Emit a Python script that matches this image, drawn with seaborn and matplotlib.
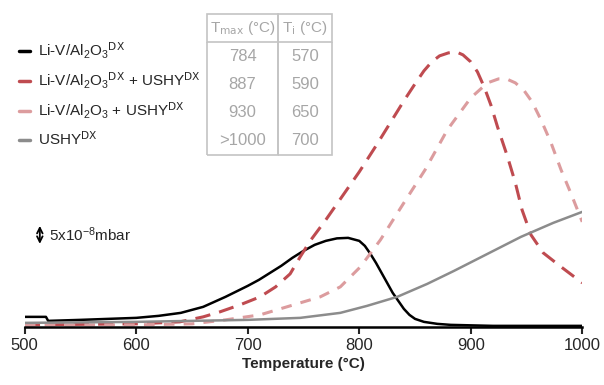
import matplotlib
matplotlib.use("Agg")
import matplotlib.pyplot as plt
from matplotlib.lines import Line2D
import seaborn as sns

# signal (arbitrary units, 16 units = 5x10^-8 mbar)
t_black = [500, 519, 521, 550, 600, 620, 640, 660, 680, 700, 710, 720, 730, 740,
           750, 760, 770, 780, 790, 800, 805, 810, 815, 820, 825, 830, 835, 840,
           845, 850, 858, 870, 882, 920, 1000]
s_black = [10, 10, 6, 7, 9, 11, 14, 20, 30, 41, 47, 54, 61, 69,
           76, 82, 86, 88.5, 89, 86, 81, 73, 64, 54, 44, 34, 26, 18,
           12, 8, 5, 3, 2, 1, 1]

t_red = [500, 600, 620, 639, 660, 675, 693, 711, 725, 738, 747, 756, 770, 785, 800,
         815, 830, 840, 850, 858, 865, 872, 880, 887, 893, 900, 906, 912, 918, 924,
         933, 940, 946, 954, 965, 981, 1000]
s_red = [2, 3, 4, 5, 10, 15, 22, 30, 40, 53, 70, 86, 107, 131, 155,
         181, 208, 226, 243, 256, 265, 271, 274, 275, 272, 265, 255, 240, 222, 200,
         170, 144, 117, 92, 74, 60, 44]

t_pink = [500, 600, 650, 680, 711, 747, 765, 783, 801, 819, 840, 859, 879, 900,
          915, 925, 932, 940, 948, 955, 963, 972, 981, 990, 1000]
s_pink = [2, 2, 3, 7, 12, 24, 30, 40, 60, 87, 124, 157, 197, 229,
          244, 248, 248, 244, 236, 225, 207, 184, 157, 133, 105]

t_gray = [500, 600, 700, 747, 783, 807, 834, 861, 885, 915, 945, 974, 1000]
s_gray = [4, 5, 7, 9, 14, 21, 30, 43, 56, 73, 90, 104, 115]

labels = ["Li-V/Al$_2$O$_3$$^{\\mathrm{DX}}$",
          "Li-V/Al$_2$O$_3$$^{\\mathrm{DX}}$ + USHY$^{\\mathrm{DX}}$",
          "Li-V/Al$_2$O$_3$ + USHY$^{\\mathrm{DX}}$",
          "USHY$^{\\mathrm{DX}}$"]
colors = ["#000000", "#bf4b50", "#dc9c9e", "#8c8c8c"]

table_header = ["T$_{\\mathrm{max}}$ (°C)", "T$_{\\mathrm{i}}$ (°C)"]
t_max = ["784", "887", "930", ">1000"]
t_i = ["570", "590", "650", "700"]

sns.set_style("white")
plt.rcParams["font.family"] = ["Liberation Sans", "DejaVu Sans"]
plt.rcParams["mathtext.default"] = "regular"

fig = plt.figure(figsize=(6.04, 3.85), dpi=100)
ax = fig.add_axes([0.041, 0.151, 0.923, 0.75])

sns.lineplot(x=t_black, y=s_black, ax=ax, color=colors[0], lw=1.8, sort=False)
sns.lineplot(x=t_red, y=s_red, ax=ax, color=colors[1], lw=2.2, sort=False,
             linestyle=(0, (5, 3)))
sns.lineplot(x=t_pink, y=s_pink, ax=ax, color=colors[2], lw=2.2, sort=False,
             linestyle=(0, (3.5, 3)))
sns.lineplot(x=t_gray, y=s_gray, ax=ax, color=colors[3], lw=1.8, sort=False)
for line in ax.get_lines():
    line.set_solid_joinstyle("round")
    line.set_dash_joinstyle("round")

ax.set_xlim(500, 1000)
ax.set_ylim(0, 288.75)
ax.set_xticks([500, 600, 700, 800, 900, 1000])
ax.tick_params(axis="x", labelsize=12, length=5, width=1.5, direction="out",
               bottom=True, pad=3)
ax.set_yticks([])
for side in ["left", "right", "top"]:
    ax.spines[side].set_visible(False)
ax.spines["bottom"].set_linewidth(1.8)
ax.spines["bottom"].set_color("black")
ax.set_xlabel("Temperature (°C)", fontsize=11, fontweight="bold", labelpad=3)
ax.set_ylabel("")

# scale bar
ax.annotate("", xy=(513.5, 101), xytext=(513.5, 83),
            arrowprops=dict(arrowstyle="<->", color="black", lw=1.3,
                            shrinkA=0, shrinkB=0, mutation_scale=10))
ax.text(522, 92, "5x10$^{-8}$mbar", fontsize=11, va="center", ha="left")

handles = [Line2D([0], [0], color=c, lw=2.5) for c in colors]
fig.legend(handles, labels, loc="upper left", bbox_to_anchor=(0.008, 0.93),
           frameon=False, fontsize=11, handlelength=0.75, handletextpad=0.5,
           labelspacing=0.62)

cells = [[a, b] for a, b in zip(t_max, t_i)]
tab = ax.table(cellText=cells, colLabels=table_header, cellLoc="center",
               bbox=[0.327, 0.596, 0.224, 0.488], colWidths=[0.568, 0.432])
tab.auto_set_font_size(False)
tab.set_fontsize(12)
nrows = len(cells)
for (r, c), cell in tab.get_celld().items():
    cell.set_edgecolor("#c4c4c4")
    cell.set_linewidth(1.2)
    cell.get_text().set_color("#a6a6a6")
    cell.set_facecolor("none")
    if r == 0:
        cell.visible_edges = "closed"
        cell.get_text().set_fontsize(11)
    elif r == nrows:
        cell.visible_edges = "LRB"
    else:
        cell.visible_edges = "LR"
tab.set_clip_on(False)

fig.savefig("out.png", dpi=100)
